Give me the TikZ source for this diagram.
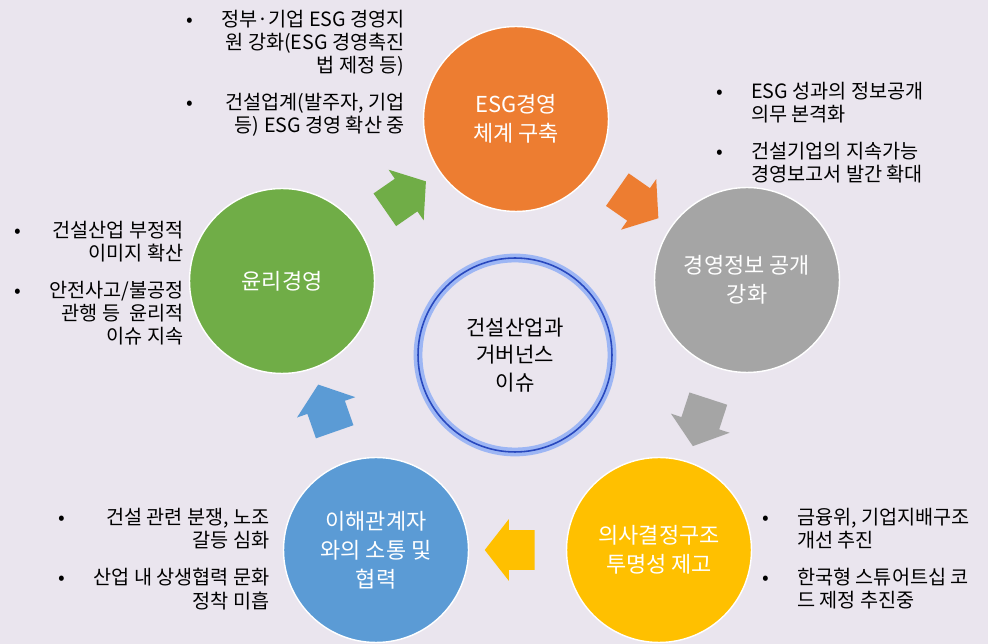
\documentclass[tikz,border=0pt]{standalone}
\usepackage{fontspec}
\setmainfont{Noto Sans CJK KR}
\usetikzlibrary{
    shapes.arrows
}
\definecolor{bg}{RGB}{234,229,238}
\definecolor{esgc}{RGB}{237,125,49}
\definecolor{infoc}{RGB}{165,165,165}
\definecolor{decc}{RGB}{255,192,0}
\definecolor{stakec}{RGB}{91,155,213}
\definecolor{ethicc}{RGB}{112,173,71}
\definecolor{ringc}{RGB}{40,72,190}
\definecolor{glowc}{RGB}{125,158,240}
\tikzset{
    issue/.style={circle, minimum size=3.7cm, inner sep=0pt, draw=white, line width=0.8pt,
        text=white, align=center, font=\fontsize{12.5pt}{16.5pt}\selectfont},
    core/.style={circle, minimum size=3.88cm, draw=ringc, line width=0.9pt,
        preaction={draw=glowc!75, line width=5pt},
        align=center, font=\fontsize{12pt}{15.5pt}\selectfont},
    flow/.style={single arrow, sloped, allow upside down, midway, draw=none,
        inner xsep=0pt, inner ysep=0.39cm, minimum height=1.0cm,
        single arrow head extend=0.22cm, single arrow tip angle=104},
    note/.style={inner sep=0pt, font=\fontsize{11.2pt}{12.5pt}\selectfont},
}
\newcommand{\bl}{\textbullet}

\begin{document}
\begin{tikzpicture}[x=0.02cm, y=-0.02cm]
   \fill[bg] (0,0) rectangle (988,644);
   % circles
   \node[issue, fill=esgc] (esg) at (516,119) {ESG경영\\체계 구축};
   \node[issue, fill=infoc] (info) at (747,280) {경영정보 공개\\강화};
   \node[issue, fill=decc] (dec) at (659,550) {의사결정구조\\투명성 제고};
   \node[issue, fill=stakec] (stake) at (376,550) {이해관계자\\와의 소통 및\\협력};
   \node[issue, fill=ethicc] (ethic) at (282,281) {윤리경영};
   \node[core] (core) at (515,355) {건설산업과\\거버넌스\\이슈};
   % arrows
   \path (ethic) -- node[flow, fill=ethicc] {} (esg);
   \path (esg) -- node[flow, fill=esgc] {} (info);
   \path (info) -- node[flow, fill=infoc] {} (dec);
   \path (dec) -- node[flow, fill=decc] {} (stake);
   \path (stake) -- node[flow, fill=stakec] {} (ethic);
   % notes
   \node[note, anchor=base east] (esgnote) at (405,27) {\begin{tabular}[t]{@{}c@{\hspace{16pt}}r@{}}
     \bl & 정부·기업 ESG 경영지\\
         & 원 강화(ESG 경영촉진\\
         & 법 제정 등)\\[8pt]
     \bl & 건설업계(발주자, 기업\\
         & 등) ESG 경영 확산 중
   \end{tabular}};
   \node[note, anchor=base west] (infonote) at (716,99) {\begin{tabular}[t]{@{}c@{\hspace{16pt}}l@{}}
     \bl & ESG 성과의 정보공개\\
         & 의무 본격화\\[8pt]
     \bl & 건설기업의 지속가능\\
         & 경영보고서 발간 확대
   \end{tabular}};
   \node[note, anchor=base east] (ethicnote) at (184,238) {\begin{tabular}[t]{@{}c@{\hspace{16pt}}r@{}}
     \bl & 건설산업 부정적\\
         & 이미지 확산\\[8pt]
     \bl & 안전사고/불공정\\
         & 관행 등\ \ 윤리적\\
         & 이슈 지속
   \end{tabular}};
   \node[note, anchor=base east] (stakenote) at (270,525) {\begin{tabular}[t]{@{}c@{\hspace{16pt}}r@{}}
     \bl & 건설 관련 분쟁, 노조\\
         & 갈등 심화\\[8pt]
     \bl & 산업 내 상생협력 문화\\
         & 정착 미흡
   \end{tabular}};
   \node[note, anchor=base west] (decnote) at (762,525) {\begin{tabular}[t]{@{}c@{\hspace{16pt}}l@{}}
     \bl & 금융위, 기업지배구조\\
         & 개선 추진\\[8pt]
     \bl & 한국형 스튜어트십 코\\
         & 드 제정 추진중
   \end{tabular}};
\end{tikzpicture}
\end{document}
